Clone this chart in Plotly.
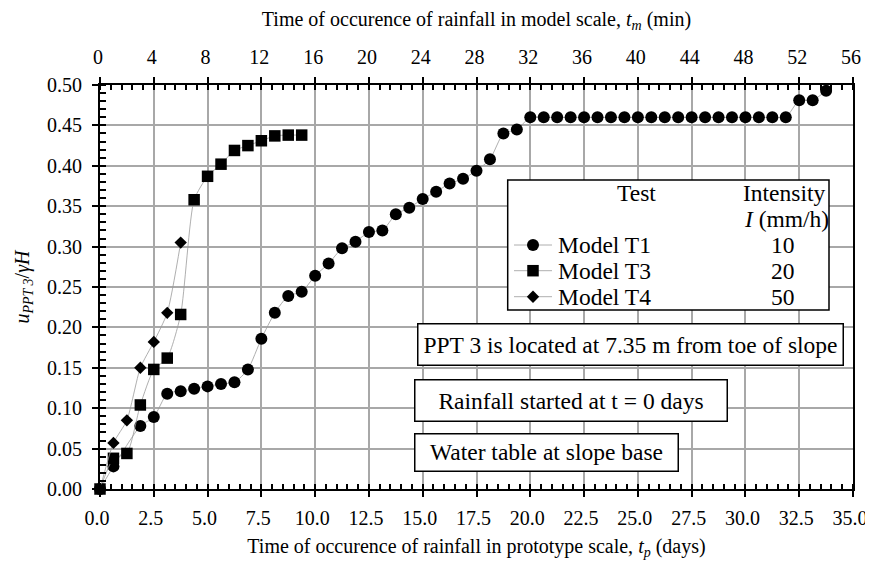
import plotly.graph_objects as go

# ---- data (prototype time in days, normalised pore pressure) ----
t1_days = [0.0, 0.625, 1.875, 2.5, 3.125, 3.75, 4.375, 5.0, 5.625, 6.25, 6.875,
           7.5, 8.125, 8.75, 9.375, 10.0, 10.625, 11.25, 11.875, 12.5, 13.125,
           13.75, 14.375, 15.0, 15.625, 16.25, 16.875, 17.5, 18.125, 18.75,
           19.375, 20.0, 20.625, 21.25, 21.875, 22.5, 23.125, 23.75, 24.375,
           25.0, 25.625, 26.25, 26.875, 27.5, 28.125, 28.75, 29.375, 30.0,
           30.625, 31.25, 31.875, 32.5, 33.125, 33.75]
t1_u = [0.0, 0.028, 0.078, 0.089, 0.118, 0.121, 0.124, 0.127, 0.130, 0.132, 0.148,
        0.186, 0.218, 0.239, 0.244, 0.264, 0.279, 0.298, 0.306, 0.318, 0.320,
        0.340, 0.348, 0.359, 0.368, 0.378, 0.384, 0.394, 0.408, 0.440,
        0.445, 0.460, 0.460, 0.460, 0.460, 0.460, 0.460, 0.460, 0.460,
        0.460, 0.460, 0.460, 0.460, 0.460, 0.460, 0.460, 0.460, 0.460,
        0.460, 0.460, 0.460, 0.481, 0.481, 0.493]

t3_days = [0.0, 0.625, 1.25, 1.875, 2.5, 3.125, 3.75, 4.375, 5.0, 5.625, 6.25,
           6.875, 7.5, 8.125, 8.75, 9.375]
t3_u = [0.0, 0.038, 0.044, 0.104, 0.148, 0.162, 0.216, 0.358, 0.387, 0.402, 0.419,
        0.425, 0.431, 0.437, 0.438, 0.438]

t4_days = [0.0, 0.625, 1.25, 1.875, 2.5, 3.125, 3.75]
t4_u = [0.0, 0.057, 0.085, 0.150, 0.182, 0.218, 0.305]

series_names = ["Model T1", "Model T3", "Model T4"]
intensities = ["10", "20", "50"]

x_range_days = [0, 35]
x_range_min = [0, 56]
y_range = [0, 0.5]

FONT = "Liberation Serif"
FS = 20      # ticks and axis titles
FS2 = 23.5   # legend and text boxes
LINE_C = "#9a9a9a"
GRID_C = "#a8a8a8"

# plot area in pixels (left, top, width, height) used for paper-coordinate placement
PL, PT, PW, PH = 100, 85, 753, 404
def px(xp):
    return (xp - PL) / PW
def py(yp):
    return (PT + PH - yp) / PH

fig = go.Figure()
specs = [
    (t1_days, t1_u, series_names[0], "circle", 12),
    (t3_days, t3_u, series_names[1], "square", 11.5),
    (t4_days, t4_u, series_names[2], "diamond", 9.5),
]
for xs, ys, nm, sym, sz in specs:
    fig.add_trace(go.Scatter(
        x=xs, y=ys, name=nm, mode="lines+markers",
        line=dict(color=LINE_C, width=0.8, shape="spline", smoothing=0.6),
        marker=dict(symbol=sym, size=sz, color="black", line=dict(width=0)),
        cliponaxis=False, showlegend=False,
    ))

# empty helper trace so that the top (model-scale) axis is drawn
fig.add_trace(go.Scatter(x=x_range_min, y=[None, None], xaxis="x2", yaxis="y",
                         mode="markers", showlegend=False, hoverinfo="skip"))

axis_common = dict(
    showline=True, linecolor="black", linewidth=2,
    ticks="outside", ticklen=6, tickwidth=2, tickcolor="black",
    tickfont=dict(family=FONT, size=FS, color="black"),
    zeroline=False, automargin=False,
)

# the page adds an 8 px body margin, so the figure is 8 px smaller on each axis
fig.update_layout(
    template="none",
    width=865, height=558,
    margin=dict(l=92, r=20, t=77, b=77, pad=0),
    paper_bgcolor="white", plot_bgcolor="white",
    font=dict(family=FONT, size=FS, color="black"),
    showlegend=False,
    xaxis=dict(
        range=x_range_days, dtick=2.5, tick0=0, tickformat=".1f",
        showgrid=True, gridcolor=GRID_C, gridwidth=1.5,
        mirror=False, ticklabelstandoff=4, ticklabelshift=-3,
        minor=dict(dtick=0.5, ticks="inside", ticklen=5, tickwidth=1.5,
                   tickcolor="black", showgrid=False),
        title=dict(text="Time of occurence of rainfall in prototype scale, <i>t</i><sub><i>p</i></sub> (days)",
                   font=dict(family=FONT, size=FS), standoff=11),
        **axis_common,
    ),
    xaxis2=dict(
        range=x_range_min, dtick=4, tick0=0,
        overlaying="x", side="top", anchor="y",
        showgrid=False, ticklabelstandoff=5, ticklabelshift=-2,
        minor=dict(dtick=0.8, ticks="inside", ticklen=5, tickwidth=1.5,
                   tickcolor="black", showgrid=False),
        title=dict(text="Time of occurence of rainfall in model scale, <i>t</i><sub><i>m</i></sub> (min)",
                   font=dict(family=FONT, size=FS), standoff=15),
        **axis_common,
    ),
    yaxis=dict(
        range=y_range, dtick=0.05, tick0=0, tickformat=".2f",
        showgrid=True, gridcolor=GRID_C, gridwidth=1.5,
        mirror=True, ticklabelstandoff=6,
        minor=dict(dtick=0.01, ticks="inside", ticklen=6, tickwidth=1.5,
                   tickcolor="black", showgrid=False),
        title=dict(text="<i>u</i><sub><i>PPT 3</i></sub>/<i>γH</i>",
                   font=dict(family=FONT, size=FS), standoff=12),
        **axis_common,
    ),
)

# ---- legend box (drawn by hand to match the original key layout) ----
fig.add_shape(type="rect", xref="paper", yref="paper",
              x0=px(507.7), x1=px(829), y0=py(310), y1=py(180),
              line=dict(color="black", width=1.5), fillcolor="white", layer="above")

ann_font = dict(family=FONT, size=FS2, color="black")
def label(text, x, y, xanchor="center"):
    fig.add_annotation(text=text, xref="paper", yref="paper", x=x, y=y,
                       xanchor=xanchor, yanchor="middle",
                       showarrow=False, font=ann_font)

label("Test", px(636), py(193))
label("Intensity", px(784), py(193))
label("<i>I</i> (mm/h)", px(786), py(219))

row_y = [245, 270.7, 296.7]
key_x = px(533)
symbols = ["circle", "square", "diamond"]
for name, val, ry, sym in zip(series_names, intensities, row_y, symbols):
    yy = py(ry)
    # key line
    fig.add_shape(type="line", xref="paper", yref="paper",
                  x0=px(514), x1=px(552), y0=yy, y1=yy,
                  line=dict(color=LINE_C, width=0.8), layer="above")
    # key symbol
    common = dict(xref="paper", yref="paper", xsizemode="pixel", ysizemode="pixel",
                  xanchor=key_x, yanchor=yy, fillcolor="black",
                  line=dict(width=0), layer="above")
    if sym == "circle":
        fig.add_shape(type="circle", x0=-6, x1=6, y0=-6, y1=6, **common)
    elif sym == "square":
        fig.add_shape(type="rect", x0=-5.75, x1=5.75, y0=-5.75, y1=5.75, **common)
    else:
        fig.add_shape(type="path", path="M 0,-6.2 L 6.2,0 L 0,6.2 L -6.2,0 Z", **common)
    label(name, px(556), yy, xanchor="left")
    label(val, px(783), yy)

# ---- text boxes ----
boxes = [
    ("PPT 3 is located at 7.35 m from toe of slope", 630, 344, 424, 40),
    ("Rainfall started at t = 0 days", 571, 400, 311, 40),
    ("Water table at slope base", 546.3, 452, 262, 35.5),
]
for txt, bx, by, w, h in boxes:
    fig.add_annotation(text=txt, xref="paper", yref="paper", x=px(bx), y=py(by),
                       xanchor="center", yanchor="middle",
                       showarrow=False, font=ann_font, width=w, height=h,
                       bgcolor="white", bordercolor="black", borderwidth=1.5,
                       borderpad=0, align="center", valign="middle")

fig.write_html("out.html")
